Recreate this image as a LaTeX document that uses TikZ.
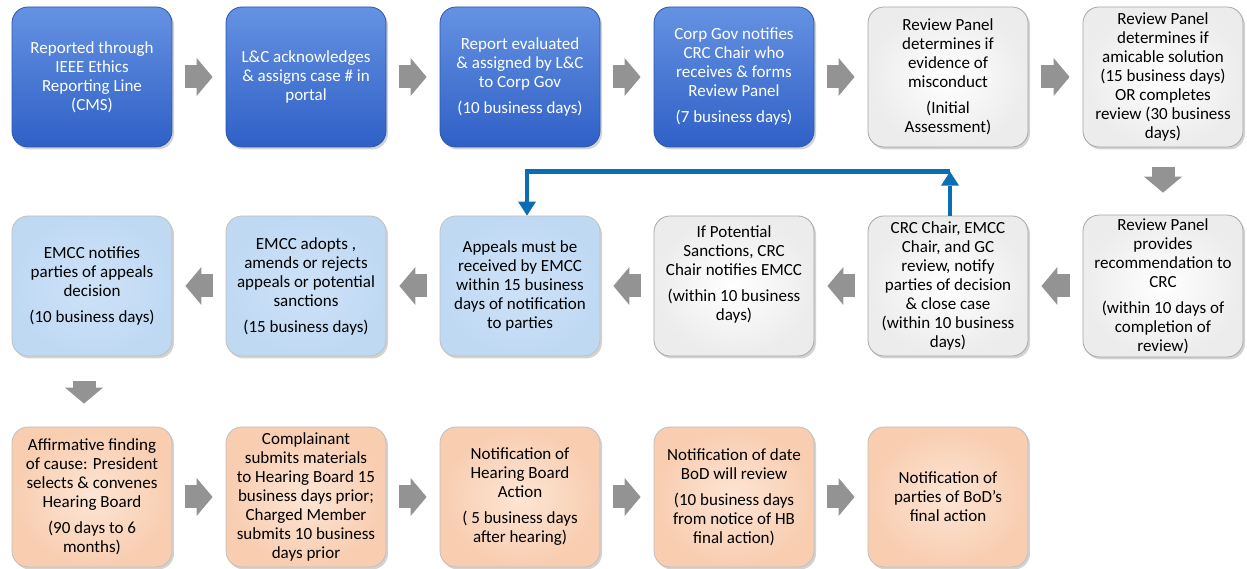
\documentclass[tikz,border=0pt]{standalone}
\usepackage{fontspec}
\setmainfont{Carlito}
\usetikzlibrary{arrows.meta,shadows,calc}

\definecolor{darktop}{HTML}{6592E2}
\definecolor{darkbot}{HTML}{2F60C6}
\definecolor{darkline}{HTML}{2A56AE}
\definecolor{palein}{HTML}{CDE2F8}
\definecolor{paleout}{HTML}{C0D9F3}
\definecolor{greyin}{HTML}{FFFFFF}
\definecolor{greyout}{HTML}{ECECEC}
\definecolor{peachin}{HTML}{FDE5D4}
\definecolor{peachout}{HTML}{F8CDB0}
\definecolor{flowgrey}{HTML}{939393}
\definecolor{loopblue}{HTML}{0B6DB3}

\tikzset{
  stage/.style={rounded corners=16pt, minimum width=160pt, minimum height=140pt,
    align=center, font=\fontsize{17}{19}\selectfont, line width=0.8pt,
    drop shadow={opacity=0.35, shadow xshift=2pt, shadow yshift=-2.5pt}},
  darkstage/.style={stage, top color=darktop, bottom color=darkbot, draw=darkline, text=white},
  palestage/.style={stage, inner color=palein, outer color=paleout, draw=black!25},
  greystage/.style={stage, inner color=greyin, outer color=greyout, draw=black!35},
  peachstage/.style={stage, inner color=peachin, outer color=peachout, draw=black!25},
  flow/.style={draw=flowgrey, line width=23pt, shorten <=13pt, shorten >=13pt,
    -{Triangle[length=16pt, width=38pt, line width=0pt]}},
  loop/.style={draw=loopblue, line width=4.5pt, line join=miter,
    -{Triangle[length=14pt, width=18pt, line width=0pt]}}
}

\begin{document}
\begin{tikzpicture}[x=1pt,y=1pt]
  \useasboundingbox (0,0) rectangle (1247,569);

  \node[darkstage] (r1c1) at (92,492) {Reported through\\IEEE Ethics\\Reporting Line\\(CMS)};
  \node[darkstage] (r1c2) at (306,492) {L\&C acknowledges\\\& assigns case \# in\\portal};
  \node[darkstage] (r1c3) at (520,492) {Report evaluated\\\& assigned by L\&C\\to Corp Gov\\[7pt](10 business days)};
  \node[darkstage] (r1c4) at (734,492) {Corp Gov notifies\\CRC Chair who\\receives \& forms\\Review Panel\\[7pt](7 business days)};
  \node[greystage] (r1c5) at (948,492) {Review Panel\\determines if\\evidence of\\misconduct\\[7pt](Initial\\Assessment)};
  \node[greystage] (r1c6) at (1163,492) {Review Panel\\determines if\\amicable solution\\(15 business days)\\OR completes\\review (30 business\\days)};

  \node[greystage] (r2c6) at (1163,283) {Review Panel\\provides\\recommendation to\\CRC\\[7pt](within 10 days of\\completion of\\review)};
  \node[greystage] (r2c5) at (948,283) {CRC Chair, EMCC\\Chair, and GC\\review, notify\\parties of decision\\\& close case\\(within 10 business\\days)};
  \node[greystage] (r2c4) at (734,283) {If Potential\\Sanctions, CRC\\Chair notifies EMCC\\[7pt](within 10 business\\days)\\[7pt]\mbox{}};
  \node[palestage] (r2c3) at (520,283) {Appeals must be\\received by EMCC\\within 15 business\\days of notification\\to parties};
  \node[palestage] (r2c2) at (306,283) {EMCC adopts ,\\amends or rejects\\appeals or potential\\sanctions\\[7pt](15 business days)};
  \node[palestage] (r2c1) at (92,283) {EMCC notifies\\parties of appeals\\decision\\[7pt](10 business days)};

  \node[peachstage] (r3c1) at (92,72) {Affirmative finding\\of cause: President\\selects \& convenes\\Hearing Board\\[7pt](90 days to 6\\months)};
  \node[peachstage] (r3c2) at (306,72) {Complainant\\submits materials\\to Hearing Board 15\\business days prior;\\Charged Member\\submits 10 business\\days prior};
  \node[peachstage] (r3c3) at (520,72) {Notification of\\Hearing Board\\Action\\[7pt]( 5 business days\\after hearing)};
  \node[peachstage] (r3c4) at (734,72) {Notification of date\\BoD will review\\[7pt](10 business days\\from notice of HB\\final action)};
  \node[peachstage] (r3c5) at (948,72) {Notification of\\parties of BoD’s\\final action};

  \draw[flow] (r1c1) -- (r1c2);
  \draw[flow] (r1c2) -- (r1c3);
  \draw[flow] (r1c3) -- (r1c4);
  \draw[flow] (r1c4) -- (r1c5);
  \draw[flow] (r1c5) -- (r1c6);
  \draw[flow, shorten <=20pt, shorten >=22pt] (r1c6) -- (r2c6);
  \draw[flow] (r2c6) -- (r2c5);
  \draw[flow] (r2c5) -- (r2c4);
  \draw[flow] (r2c4) -- (r2c3);
  \draw[flow] (r2c3) -- (r2c2);
  \draw[flow] (r2c2) -- (r2c1);
  \draw[flow, shorten <=25pt, shorten >=23pt] ([xshift=-8pt]r2c1.south) -- ([xshift=-8pt]r3c1.north);
  \draw[flow] (r3c1) -- (r3c2);
  \draw[flow] (r3c2) -- (r3c3);
  \draw[flow] (r3c3) -- (r3c4);
  \draw[flow] (r3c4) -- (r3c5);

  \coordinate (turnR) at ([xshift=2pt,yshift=44pt]r2c5.north);
  \coordinate (turnL) at ($(r2c3.north |- turnR)+(7,0)$);
  \draw[loop] ([xshift=2pt]r2c5.north) -- (turnR);
  \draw[loop] (turnR) -- (turnL) -- ([xshift=7pt]r2c3.north);
\end{tikzpicture}
\end{document}
